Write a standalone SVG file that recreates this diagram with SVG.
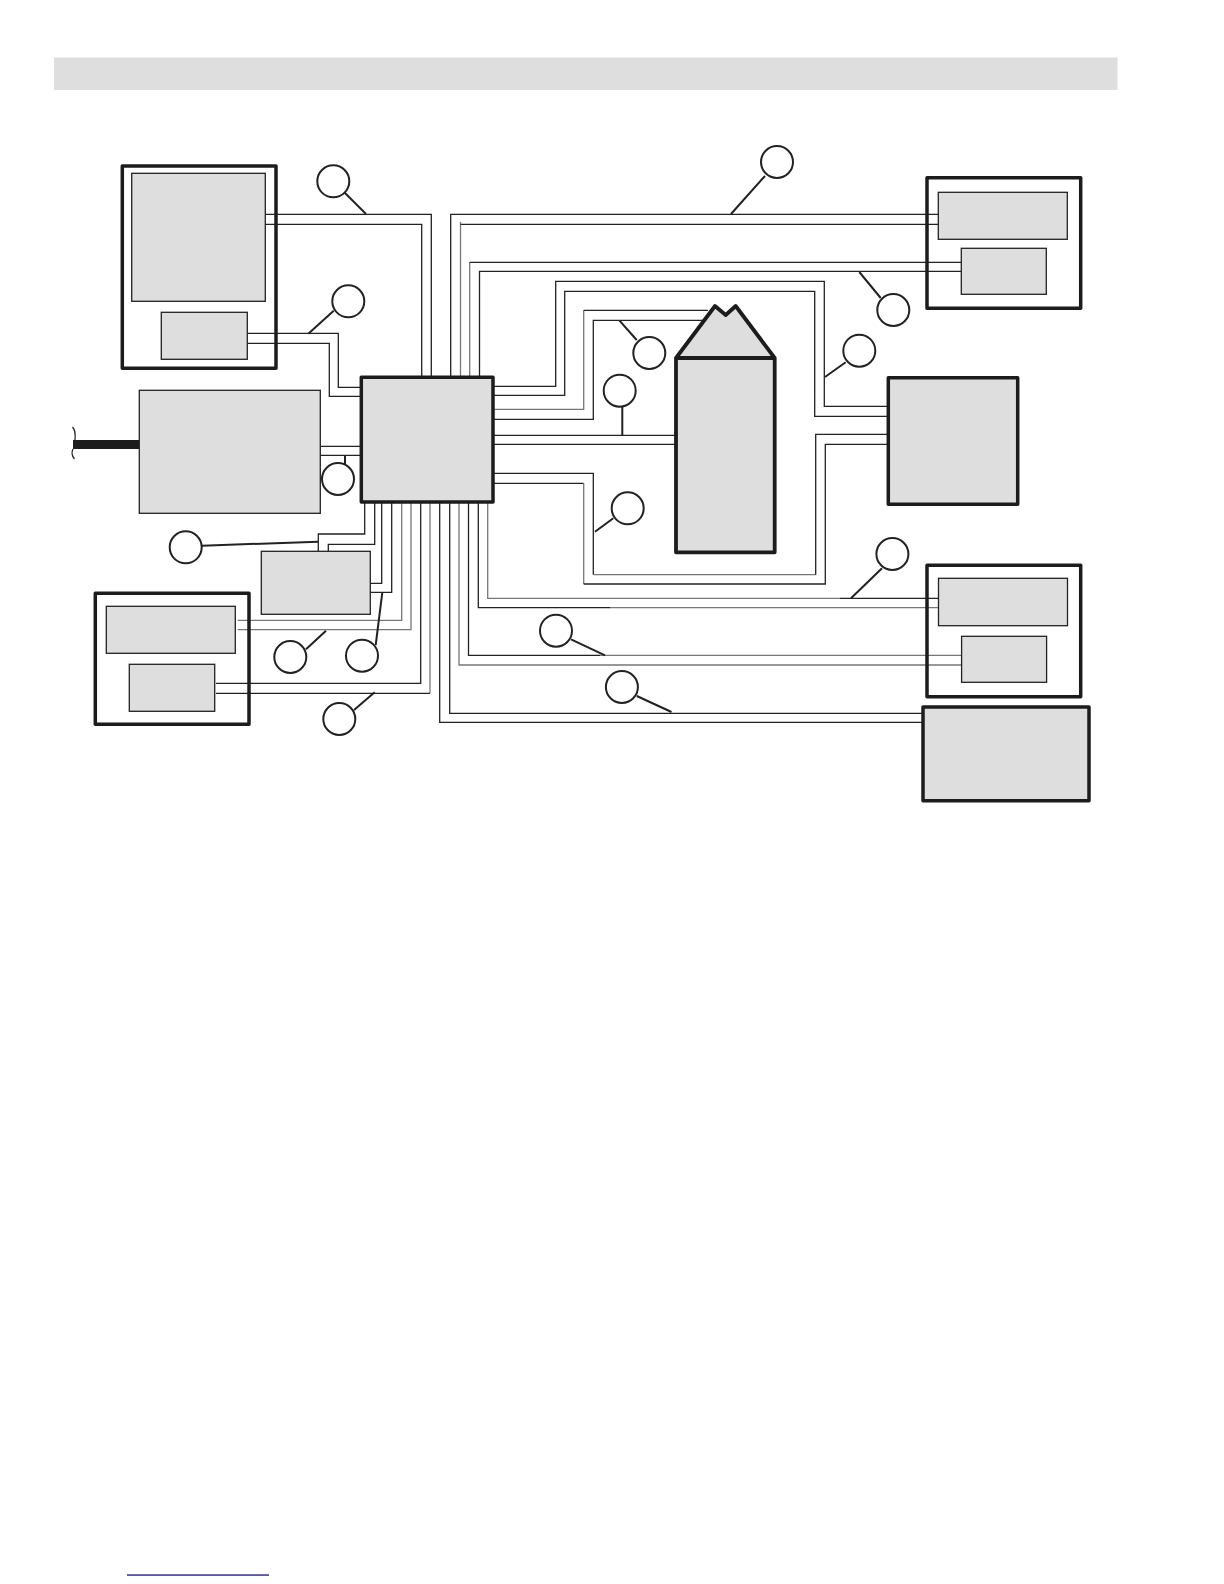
<svg xmlns="http://www.w3.org/2000/svg" width="1224" height="1584" viewBox="0 0 1224 1584">
<style>
.w{fill:none;stroke:#222;stroke-width:1.3}
.g{fill:none;stroke:#777;stroke-width:1.3}
.l{fill:none;stroke:#222;stroke-width:2}
.t{fill:#dedede;stroke:#1c1c1c;stroke-width:3.5;stroke-linejoin:round}
.f{fill:none;stroke:#1c1c1c;stroke-width:3.5;stroke-linejoin:round}
.i{fill:#dedede;stroke:#222;stroke-width:1.3}
.c{fill:#fff;stroke:#222;stroke-width:2}
</style>
<rect x="54" y="57.5" width="1063.5" height="32.5" fill="#dedede"/>
<g id="connectors">
<path class="w" d="M265.3 214.3H431.3V377M265.3 224.3H421.7V377"/>
<path class="w" d="M247.3 333.3H338.3V387.3H361M247.3 343.3H329.3V396.3H361"/>
<path class="w" d="M320.3 446.3H361M320.3 455.3H361"/>
<path fill="#1c1c1c" d="M73 440H139.3V449H73Z"/>
<path class="w" d="M72.5 427C75.5 430 75.5 435 75 440M73 449C71.5 452 72 456 74.5 459"/>
<path class="w" d="M450.7 377V214.3H938.5"/>
<path class="g" d="M460.5 377V222"/><path class="w" d="M460.5 224.3H938.5"/>
<path class="g" d="M469.7 377V262.3"/><path class="w" d="M469.7 262.3H961.5"/>
<path class="w" d="M479.5 377V271.3H961.5"/>
<path class="w" d="M493 386.3H555.7V281.3H824.3V406.3H888.3"/>
<path class="w" d="M493 395.3H564.7V291.3H814.7V416.3H888.3"/>
<path class="g" d="M493 409.3H583.7V310.3"/><path class="w" d="M583.7 310.3H708"/>
<path class="w" d="M493 419.3H593.3V320.3H704"/>
<path class="w" d="M493 435.3H676M493 444.3H676"/>
<path class="w" d="M493 473.3H593.3V574.7"/><path class="g" d="M593.3 574.7H815.7"/><path class="w" d="M815.7 574.7V434.3H888.3"/>
<path class="w" d="M493 483.3H583.7"/><path class="g" d="M583.7 483.3V584"/><path class="w" d="M583.7 584H825.3V444.3H888.3"/>
<path class="w" d="M364.7 502V534H318.3V551.3"/>
<path class="w" d="M374.7 502V544.3H328.3V551.3"/>
<path class="w" d="M381.7 502V583.3H370.3"/>
<path class="w" d="M391.7 502V592.3H370.3"/>
<path class="g" d="M401.7 502V620.3H237.7"/>
<path class="g" d="M411 502V629.7H237.7"/>
<path class="w" d="M420.7 502V683.3H216"/>
<path class="g" d="M430 502V693.3"/><path class="w" d="M430 693.3H216"/>
<path class="w" d="M439.7 502V722.3H923"/>
<path class="w" d="M449.7 502V713.3H923"/>
<path class="g" d="M459 502V665H961.6"/>
<path class="w" d="M468.5 502V655.3H600"/><path class="g" d="M600 655.3H961.6"/>
<path class="w" d="M478.3 502V607.7H610"/><path class="g" d="M610 607.7H938.5"/>
<path class="g" d="M487.7 502V598.3H840"/><path class="w" d="M840 598.3H938.5"/>
<path class="l" d="M366 214L344 192M308.3 333.7L333.7 310.7M345 455.3V467.7M731 214L765 176M859.3 272L880.7 298M825 377L845.7 362.3M619.3 320.3L636.7 340M622.3 435.3V406.7M595 531.7L613.3 518.3M851 598.3L882 568.3M605 655.3L571 639.3M671.5 712L636.8 696M202 545.7L318 541.7M326 630.7L306 649.3M382.3 592.7L375.7 645M374.7 692.3L354 710"/>
</g>
<g id="node-a"><rect class="f" x="122.3" y="166" width="153.7" height="202.3"/><rect class="i" x="131.7" y="173.3" width="133.6" height="128"/><rect class="i" x="161.3" y="312.3" width="86" height="47"/></g>
<g id="node-c"><rect class="i" x="139.3" y="390.3" width="181" height="123"/></g>
<g id="node-hub"><rect class="t" x="361.3" y="377.3" width="131.7" height="124.7"/></g>
<g id="node-d"><rect class="f" x="927" y="177.7" width="153.7" height="130.6"/><rect class="i" x="938.3" y="192.3" width="129" height="47"/><rect class="i" x="961.3" y="248.3" width="85" height="46"/></g>
<g id="node-e"><rect class="t" x="888.3" y="377.7" width="129.4" height="126.6"/></g>
<g id="node-silo"><path class="t" style="stroke-width:3.8" d="M676 358L715 306L725.7 315L735.7 306L774.7 358V552.3H676ZM676 358H774.7"/></g>
<g id="node-h"><rect class="f" x="927" y="565.3" width="153.7" height="131.4"/><rect class="i" x="938.5" y="578.3" width="129" height="47.4"/><rect class="i" x="961.6" y="636.3" width="85" height="46"/></g>
<g id="node-g"><rect class="t" x="923" y="707" width="166" height="93.7"/></g>
<g id="node-f"><rect class="i" x="261.3" y="551.3" width="109" height="63"/></g>
<g id="node-k"><rect class="f" x="95.3" y="593.3" width="153.7" height="131"/><rect class="i" x="106.3" y="606.3" width="129" height="47"/><rect class="i" x="129.3" y="664.3" width="85.4" height="47"/></g>
<g id="callouts">
<circle class="c" cx="333.3" cy="181.3" r="16"/>
<circle class="c" cx="348.3" cy="301.3" r="16"/>
<circle class="c" cx="338" cy="479" r="16"/>
<circle class="c" cx="777" cy="162" r="16"/>
<circle class="c" cx="893.3" cy="310" r="16"/>
<circle class="c" cx="859.3" cy="350.7" r="16"/>
<circle class="c" cx="649.3" cy="353" r="16"/>
<circle class="c" cx="619.7" cy="390.7" r="16"/>
<circle class="c" cx="627.7" cy="508.3" r="16"/>
<circle class="c" cx="892.4" cy="554" r="16"/>
<circle class="c" cx="556" cy="630.7" r="16"/>
<circle class="c" cx="621.9" cy="687" r="16"/>
<circle class="c" cx="185.7" cy="547.3" r="16"/>
<circle class="c" cx="290.3" cy="657" r="16"/>
<circle class="c" cx="362" cy="655.7" r="16"/>
<circle class="c" cx="339.3" cy="719" r="16"/>
</g>
<rect x="127" y="1574.4" width="142" height="1.3" fill="#12128c"/>
</svg>
